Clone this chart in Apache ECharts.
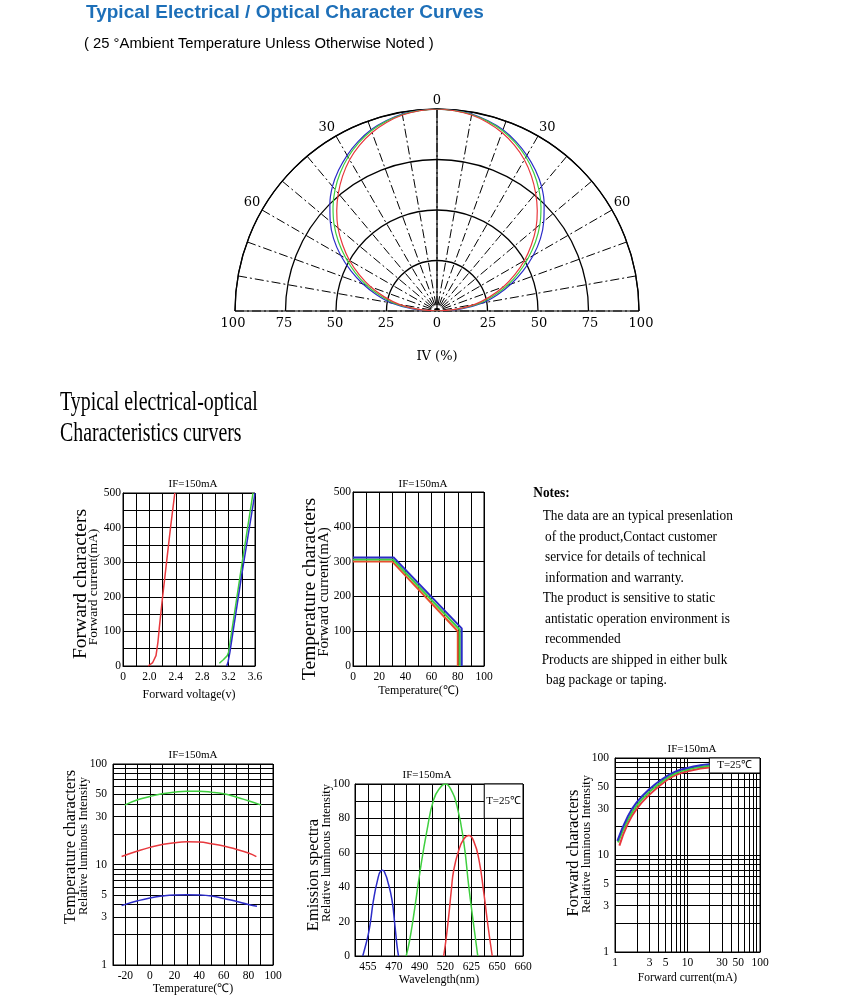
<!DOCTYPE html>
<html>
<head>
<meta charset="utf-8">
<script src="https://cdn.jsdelivr.net/npm/echarts@6.0.0/dist/echarts.min.js"></script>
<style>
  html, body { margin: 0; background: #fff; }
  #chart { width: 845px; height: 1000px; }
</style>
</head>
<body>
<div id="chart"></div>
<script>
// ---- data ----

// radiation pattern: angle (deg from axis) / relative intensity (%), one side; the pattern is mirrored
const patternAngles = [0, 5, 10, 15, 20, 25, 30, 35, 40, 45, 50, 55, 60, 65, 70, 75, 80, 85, 90];
const patternBlue  = [100, 99.7, 99, 97.5, 95.5, 92.5, 89, 85, 80.5, 75, 69, 62.5, 55, 47, 39, 31, 23, 12, 0];
const patternGreen = [100, 99.6, 98.8, 97.2, 95, 91.8, 88, 83.5, 78.5, 72.8, 66.5, 59.5, 52, 44.5, 37, 29, 21, 10, 0];
const patternRed   = [100, 99.5, 98.5, 96.6, 94, 90.6, 86.5, 81.5, 76, 70.2, 64, 57, 50, 42.5, 35, 27, 19, 9, 0];
const ivTicks = [100, 75, 50, 25, 0, 25, 50, 75, 100];

// forward voltage (V) / forward current (mA)
const fvTickLabels = ['0', '2.0', '2.4', '2.8', '3.2', '3.6'];
const fvRed   = [[1.98, 0], [2.05, 10], [2.1, 30], [2.13, 70], [2.15, 110], [2.2, 200], [2.26, 300], [2.32, 400], [2.385, 500]];
const fvGreen = [[3.06, 8], [3.12, 18], [3.18, 30], [3.2, 40], [3.4, 292], [3.57, 500]];
const fvBlue  = [[3.17, 0], [3.19, 10], [3.22, 40], [3.4, 265], [3.6, 500]];

// ambient temperature (°C) / max forward current (mA)
const derateRed   = [[0, 300], [30, 300], [80, 100], [80, 0]];
const derateGreen = [[0, 306], [30.5, 306], [81.5, 104], [81.5, 0]];
const derateBlue  = [[0, 312], [31, 312], [83, 108], [83, 0]];

// temperature (°C) / relative luminous intensity
const tempGreen = [[-20.5, 39], [-10, 44], [0, 47.5], [10, 50.5], [20, 52.5], [30, 53.5], [40, 53.5], [50, 52.5], [60, 50.5], [70, 47], [80, 43], [90.5, 39]];
const tempRed   = [[-23, 12], [-10, 13.6], [0, 14.8], [10, 15.8], [20, 16.5], [30, 16.8], [40, 16.7], [50, 16.1], [60, 15.3], [70, 14.2], [80, 13], [86.5, 12]];
const tempBlue  = [[-23, 3.9], [-10, 4.35], [0, 4.65], [10, 4.85], [20, 4.97], [30, 5.0], [40, 4.97], [50, 4.85], [60, 4.6], [70, 4.3], [80, 4.0], [87, 3.85]];

// emission spectra: x is the grid column of the (non linear) wavelength axis
const spectraTickLabels = ['455', '470', '490', '520', '625', '650', '660'];
const spectraBlue  = [[0.6, 0], [0.85, 7], [1.04, 13], [1.2, 20], [1.42, 32], [1.74, 44], [2.0, 49.5], [2.15, 49.8], [2.35, 47.5], [2.51, 44], [2.85, 33], [3.1, 17], [3.25, 6], [3.37, 0]];
const spectraGreen = [[3.96, 0], [4.2, 8], [4.53, 23], [5.05, 50], [5.57, 73], [6.09, 91], [6.6, 98], [7.0, 100], [7.38, 97.5], [7.9, 87], [8.42, 66], [8.81, 40], [9.2, 17], [9.5, 0]];
const spectraRed   = [[6.86, 0], [7.05, 10], [7.25, 23], [7.45, 38], [7.64, 50], [8.03, 61.5], [8.42, 68], [8.81, 70], [9.2, 66.5], [9.59, 56], [9.97, 36.5], [10.3, 17], [10.62, 0]];

// forward current (mA) / relative luminous intensity
const ifBlue  = [[1.08, 14], [1.5, 25], [2, 35], [3, 48], [5, 64], [7, 73], [10, 79], [15, 84], [20, 86]];
const ifGreen = [[1.1, 13.5], [1.5, 23], [2, 32.5], [3, 45], [5, 61], [7, 70], [10, 76], [15, 81], [20, 83]];
const ifRed   = [[1.15, 12.5], [1.5, 21], [2, 30], [3, 42], [5, 58], [7, 67], [10, 73], [15, 78], [20, 80]];

const logGrid = [1, 2, 3, 4, 5, 6, 7, 8, 9, 10, 20, 30, 40, 50, 60, 70, 80, 90, 100];
const logLabels = [1, 3, 5, 10, 30, 50, 100];

const notes = [
  'The data are an typical presenlation',
  'of the product,Contact customer',
  'service for details of technical',
  'information and warranty.',
  'The product is sensitive to static',
  'antistatic operation environment is',
  'recommended',
  'Products are shipped in either bulk',
  'bag package or taping.'
];
const notesX = [542.7, 545, 545, 545, 542.7, 545, 545, 541.7, 546];
const notesY = [516, 536.7, 557.5, 578, 598.5, 619, 639.5, 660, 680.5];

// ---- styles ----
const serif = "'Liberation Serif', 'Times New Roman', serif";
const polarFont = "'DejaVu Serif', serif";
const RED = '#e8383d', GREEN = '#3fcf3f', BLUE = '#2c2cc8';
const gridLine = { show: true, lineStyle: { color: '#000', width: 1 } };
const tickFont = { fontFamily: serif, fontSize: 11.5, color: '#000' };

const myChart = echarts.init(document.getElementById('chart'));

function frameAxis(extra) {
  return Object.assign({
    axisLine: { show: true, lineStyle: { color: '#000', width: 1 } },
    axisTick: { show: false },
    splitLine: gridLine,
    minorSplitLine: { show: false }
  }, extra);
}

function line(name, data, color, xi, extra) {
  return Object.assign({
    name: name, type: 'line', xAxisIndex: xi, yAxisIndex: xi,
    data: data, symbol: 'none', silent: true,
    lineStyle: { color: color, width: 1.5 }
  }, extra);
}

function text(t, x, y, size, opts) {
  opts = opts || {};
  return {
    type: 'text', x: x, y: y,
    rotation: opts.rotate ? Math.PI / 2 : 0,
    scaleX: opts.scaleX || 1,
    style: {
      text: t,
      fontFamily: opts.font || serif,
      fontSize: size,
      fontWeight: opts.bold ? 'bold' : 'normal',
      fill: opts.color || '#000',
      textAlign: opts.align || 'center',
      textVerticalAlign: 'middle'
    }
  };
}

// mirrored pattern, from -90 (left) through 0 (top) to 90 (right)
function pattern(values) {
  const pts = [];
  for (let i = patternAngles.length - 1; i > 0; i--) pts.push([values[i], -patternAngles[i]]);
  for (let i = 0; i < patternAngles.length; i++) pts.push([values[i], patternAngles[i]]);
  return pts;
}

const graphics = [
  text('Typical Electrical / Optical Character Curves', 86, 12.7, 19,
    { font: "'Liberation Sans', Arial, sans-serif", bold: true, color: '#1d6fb8', align: 'left' }),
  text('( 25 °Ambient Temperature Unless Otherwise Noted )', 84, 44, 14.8,
    { font: "'Liberation Sans', Arial, sans-serif", align: 'left' }),
  text('IV (%)', 437, 357, 13, { font: polarFont }),
  text('Typical electrical-optical', 60, 403, 28, { align: 'left', scaleX: 0.71 }),
  text('Characteristics curvers', 60, 434, 28, { align: 'left', scaleX: 0.71 }),
  text('Notes:', 533.3, 493, 15, { align: 'left', bold: true, scaleX: 0.89 }),

  text('IF=150mA', 193, 484, 11),
  text('IF=150mA', 423, 484, 11),
  text('IF=150mA', 193, 755, 11),
  text('IF=150mA', 427, 775, 11),
  text('IF=150mA', 692, 749, 11),

  text('Forward characters', 80.7, 584, 19.5, { rotate: true }),
  text('Forward current(mA)', 93.7, 587, 13.5, { rotate: true }),
  text('Temperature characters', 310, 589, 19.5, { rotate: true }),
  text('Forward current(mA)', 324, 592, 15, { rotate: true }),
  text('Temperature characters', 70.7, 847, 16.5, { rotate: true }),
  text('Relative luminous Intensity', 83.3, 846, 12.5, { rotate: true }),
  text('Emission spectra', 314, 875, 16.5, { rotate: true }),
  text('Relative luminous Intensity', 326.7, 853, 12.5, { rotate: true }),
  text('Forward characters', 574, 853, 16.5, { rotate: true }),
  text('Relative luminous Intensity', 586.7, 844, 12.5, { rotate: true })
];
notes.forEach((t, i) => graphics.push(text(t, notesX[i], notesY[i], 15, { align: 'left', scaleX: 0.89 })));

const angleBase = { type: 'value', min: -90, max: 90, startAngle: 180, endAngle: 0, clockwise: true,
  axisTick: { show: false } };

const option = {
  animation: false,
  backgroundColor: '#fff',
  graphic: graphics,
  polar: [0, 1, 2].map(() => ({ center: [437, 311], radius: 202 })),
  angleAxis: [
    Object.assign({}, angleBase, {
      polarIndex: 0, interval: 10,
      axisLine: { show: true, lineStyle: { color: '#000', width: 1.2 } },
      axisLabel: { show: false },
      splitLine: { show: true, lineStyle: { color: '#000', width: 1, type: [9, 3, 2, 3] } }
    }),
    Object.assign({}, angleBase, {
      polarIndex: 1, interval: 30,
      axisLine: { show: false },
      axisLabel: { show: true, margin: 2, fontFamily: polarFont, fontSize: 13, color: '#000',
        formatter: v => Math.abs(v) === 90 ? '' : String(Math.abs(v)) },
      splitLine: { show: false }
    }),
    Object.assign({}, angleBase, {
      polarIndex: 2, interval: 90,
      axisLine: { show: false },
      axisLabel: { show: false },
      splitLine: { show: true, lineStyle: { color: '#000', width: 1.2 } }
    })
  ],
  radiusAxis: [
    { polarIndex: 0, type: 'value', min: 0, max: 100, interval: 25,
      axisLine: { show: false }, axisTick: { show: false }, axisLabel: { show: false },
      splitLine: { show: true, lineStyle: { color: '#000', width: 1.3 } } },
    { polarIndex: 1, type: 'value', min: 0, max: 100, show: false },
    { polarIndex: 2, type: 'value', min: 0, max: 100, show: false }
  ],
  grid: [
    { left: 233, top: 310, width: 408, height: 1, outerBoundsMode: 'none' },
    { left: 123, top: 493, width: 132, height: 173, show: true, borderColor: '#000', borderWidth: 1, outerBoundsMode: 'none' },
    { left: 353, top: 492, width: 131, height: 174, show: true, borderColor: '#000', borderWidth: 1, outerBoundsMode: 'none' },
    { left: 113, top: 764, width: 160, height: 201, show: true, borderColor: '#000', borderWidth: 1, outerBoundsMode: 'none' },
    { left: 355, top: 784, width: 168, height: 172, show: true, borderColor: '#000', borderWidth: 1, outerBoundsMode: 'none' },
    { left: 615, top: 758, width: 145, height: 194, show: true, borderColor: '#000', borderWidth: 1, outerBoundsMode: 'none' }
  ],
  xAxis: [
    { gridIndex: 0, type: 'value', min: -100, max: 100, interval: 25,
      axisLine: { show: false }, axisTick: { show: false }, splitLine: { show: false },
      axisLabel: { margin: 6, fontFamily: polarFont, fontSize: 13, color: '#000',
        formatter: (v) => String(ivTicks[Math.round((v + 100) / 25)]) } },
    frameAxis({ gridIndex: 1, type: 'value', min: 1.6, max: 3.6, interval: 0.4,
      minorTick: { show: false, splitNumber: 2 }, minorSplitLine: gridLine,
      axisLabel: Object.assign({ margin: 5, formatter: v => fvTickLabels[Math.round((v - 1.6) / 0.4)] }, tickFont),
      name: 'Forward voltage(v)', nameLocation: 'middle', nameGap: 23,
      nameTextStyle: { fontFamily: serif, fontSize: 12, color: '#000' } }),
    frameAxis({ gridIndex: 2, type: 'value', min: 0, max: 100, interval: 20,
      minorTick: { show: false, splitNumber: 2 }, minorSplitLine: gridLine,
      axisLabel: Object.assign({ margin: 5 }, tickFont),
      name: 'Temperature(℃)', nameLocation: 'middle', nameGap: 19,
      nameTextStyle: { fontFamily: serif, fontSize: 12, color: '#000' } }),
    frameAxis({ gridIndex: 3, type: 'value', min: -30, max: 100, interval: 10,
      axisLabel: Object.assign({ margin: 5, formatter: v => (v % 20 === 0 ? String(v) : '') }, tickFont),
      name: 'Temperature(℃)', nameLocation: 'middle', nameGap: 16,
      nameTextStyle: { fontFamily: serif, fontSize: 12, color: '#000' } }),
    frameAxis({ gridIndex: 4, type: 'value', min: 0, max: 13, interval: 1,
      axisLabel: Object.assign({ margin: 5, formatter: v => (v % 2 === 1 ? spectraTickLabels[(v - 1) / 2] : '') }, tickFont),
      name: 'Wavelength(nm)', nameLocation: 'middle', nameGap: 15,
      nameTextStyle: { fontFamily: serif, fontSize: 12, color: '#000' } }),
    frameAxis({ gridIndex: 5, type: 'log', logBase: 10, min: 1, max: 100,
      axisTick: { show: false, customValues: logGrid },
      axisLabel: Object.assign({ margin: 5, customValues: logLabels }, tickFont),
      name: 'Forward current(mA)', nameLocation: 'middle', nameGap: 20,
      nameTextStyle: { fontFamily: serif, fontSize: 11.5, color: '#000' } })
  ],
  yAxis: [
    { gridIndex: 0, type: 'value', min: 0, max: 1, show: false },
    frameAxis({ gridIndex: 1, type: 'value', min: 0, max: 500, interval: 100,
      minorTick: { show: false, splitNumber: 2 }, minorSplitLine: gridLine,
      axisLabel: Object.assign({ margin: 2 }, tickFont) }),
    frameAxis({ gridIndex: 2, type: 'value', min: 0, max: 500, interval: 100,
      axisLabel: Object.assign({ margin: 2 }, tickFont) }),
    frameAxis({ gridIndex: 3, type: 'log', logBase: 10, min: 1, max: 100,
      axisTick: { show: false, customValues: logGrid },
      axisLabel: Object.assign({ margin: 6, customValues: logLabels }, tickFont) }),
    frameAxis({ gridIndex: 4, type: 'value', min: 0, max: 100, interval: 20,
      minorTick: { show: false, splitNumber: 2 }, minorSplitLine: gridLine,
      axisLabel: Object.assign({ margin: 5 }, tickFont) }),
    frameAxis({ gridIndex: 5, type: 'log', logBase: 10, min: 1, max: 100,
      axisTick: { show: false, customValues: logGrid },
      axisLabel: Object.assign({ margin: 6, customValues: logLabels }, tickFont) })
  ],
  series: [
    { type: 'line', coordinateSystem: 'polar', polarIndex: 0, symbol: 'none', smooth: 0.3, silent: true,
      lineStyle: { color: BLUE, width: 1.2 }, data: pattern(patternBlue) },
    { type: 'line', coordinateSystem: 'polar', polarIndex: 0, symbol: 'none', smooth: 0.3, silent: true,
      lineStyle: { color: GREEN, width: 1.2 }, data: pattern(patternGreen) },
    { type: 'line', coordinateSystem: 'polar', polarIndex: 0, symbol: 'none', smooth: 0.3, silent: true,
      lineStyle: { color: RED, width: 1.2 }, data: pattern(patternRed) },

    line('red', fvRed, RED, 1),
    line('green', fvGreen, GREEN, 1),
    line('blue', fvBlue, BLUE, 1),

    line('red', derateRed, '#e8502e', 2, { lineStyle: { color: '#e8502e', width: 2 } }),
    line('green', derateGreen, GREEN, 2, { lineStyle: { color: GREEN, width: 2 } }),
    line('blue', derateBlue, BLUE, 2, { lineStyle: { color: BLUE, width: 2 } }),

    line('green', tempGreen, GREEN, 3, { smooth: true }),
    line('red', tempRed, RED, 3, { smooth: true }),
    line('blue', tempBlue, BLUE, 3, { smooth: true }),

    line('blue', spectraBlue, BLUE, 4, { smooth: true,
      markArea: { silent: true,
        itemStyle: { color: '#fff', borderColor: '#000', borderWidth: 1 },
        label: { show: true, position: 'inside', formatter: 'T=25℃', fontFamily: serif, fontSize: 11, color: '#000' },
        data: [[{ coord: [10, 100] }, { coord: [13, 80] }]] } }),
    line('green', spectraGreen, GREEN, 4, { smooth: true }),
    line('red', spectraRed, RED, 4, { smooth: true }),

    line('red', ifRed, RED, 5, { smooth: true, lineStyle: { color: RED, width: 2 },
      markArea: { silent: true,
        itemStyle: { color: '#fff', borderColor: '#000', borderWidth: 1 },
        label: { show: true, position: 'inside', formatter: 'T=25℃', fontFamily: serif, fontSize: 11, color: '#000' },
        data: [[{ coord: [20, 100] }, { coord: [100, 70] }]] } }),
    line('green', ifGreen, GREEN, 5, { smooth: true, lineStyle: { color: GREEN, width: 2 } }),
    line('blue', ifBlue, BLUE, 5, { smooth: true, lineStyle: { color: BLUE, width: 2 } })
  ]
};

myChart.setOption(option);
</script>
</body>
</html>
